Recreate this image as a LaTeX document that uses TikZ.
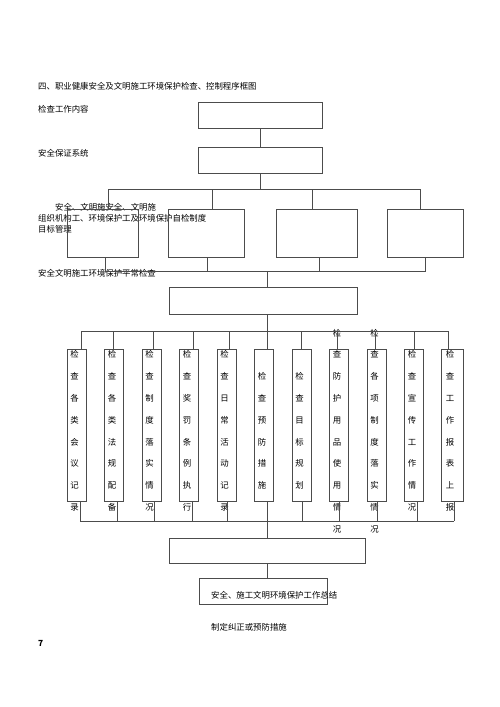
\documentclass[tikz,border=0pt]{standalone}
\usepackage{amsmath,amssymb}
\usepackage{xcolor}
\usepackage{fontspec}
\setmainfont{Noto Sans CJK SC}

\begin{document}
\begin{tikzpicture}[x=1pt,y=-1pt,        kuang/.style={rectangle,draw=black!70,line width=0.6pt,inner sep=0pt},      shukuang/.style={kuang,minimum width=19,minimum height=152},        wenzi/.style={anchor=west,inner sep=0pt,font=\fontsize{8.4}{10}\selectfont},        shuwenzi/.style={inner sep=0pt,align=center,font=\fontsize{8.4}{21.8}\selectfont},      xian/.style={draw=black!70,line width=0.6pt}  ]
    \path[fill=white] (0,0) rectangle (500,707);
    % textos
    \node[wenzi] (biaoti) at (38,86) {四、职业健康安全及文明施工环境保护检查、控制程序框图};
    \node[wenzi] (neirongtxt) at (38,109) {检查工作内容};
    \node[wenzi] (baozhengtxt) at (38,153) {安全保证系统};
    \node[wenzi] (zuzhitxt1) at (55,207) {安全、文明施安全、文明施};
    \node[wenzi] (zuzhitxt2) at (38,218) {组织机构工、环境保护工及环境保护自检制度};
    \node[wenzi] (zuzhitxt3) at (38,229) {目标管理};
    \node[wenzi] (richangtxt) at (38,273) {安全文明施工环境保护平常检查};
    % cajas
    \node[kuang,minimum width=124,minimum height=26] (neirong) at (260,115) {};
    \node[kuang,minimum width=124,minimum height=26] (baozheng) at (260,160) {};
    \node[kuang,minimum width=71,minimum height=48] (zuzhi) at (102.5,233) {};
    \node[kuang,minimum width=76,minimum height=48] (zeren) at (206,233) {};
    \node[kuang,minimum width=81,minimum height=48] (zijian) at (316.5,233) {};
    \node[kuang,minimum width=76,minimum height=48] (mubiao) at (425,233) {};
    \node[kuang,minimum width=188,minimum height=27] (richang) at (263,300.5) {};
    % columnas
    \node[shukuang] (j1) at (76.5,425) {};
    \node[shuwenzi] (t1) at (74.5,431) {检\\查\\各\\类\\会\\议\\记\\录};
    \node[shukuang] (j2) at (114,425) {};
    \node[shuwenzi] (t2) at (112,431) {检\\查\\各\\类\\法\\规\\配\\备};
    \node[shukuang] (j3) at (151.5,425) {};
    \node[shuwenzi] (t3) at (149.5,431) {检\\查\\制\\度\\落\\实\\情\\况};
    \node[shukuang] (j4) at (189,425) {};
    \node[shuwenzi] (t4) at (187,431) {检\\查\\奖\\罚\\条\\例\\执\\行};
    \node[shukuang] (j5) at (226.5,425) {};
    \node[shuwenzi] (t5) at (224.5,431) {检\\查\\日\\常\\活\\动\\记\\录};
    \node[shukuang] (j6) at (264,425) {};
    \node[shuwenzi] (t6) at (262,431) {检\\查\\预\\防\\措\\施};
    \node[shukuang] (j7) at (301.5,425) {};
    \node[shuwenzi] (t7) at (299.5,431) {检\\查\\目\\标\\规\\划};
    \node[shukuang] (j8) at (339,425) {};
    \node[shuwenzi] (t8) at (337,431) {检\\查\\防\\护\\用\\品\\使\\用\\情\\况};
    \node[shukuang] (j9) at (376.5,425) {};
    \node[shuwenzi] (t9) at (374.5,431) {检\\查\\各\\项\\制\\度\\落\\实\\情\\况};
    \node[shukuang] (j10) at (414,425) {};
    \node[shuwenzi] (t10) at (412,431) {检\\查\\宣\\传\\工\\作\\情\\况};
    \node[shukuang,minimum width=22] (j11) at (452,425) {};
    \node[shuwenzi] (t11) at (450,431) {检\\查\\工\\作\\报\\表\\上\\报};
    % abajo
    \node[kuang,minimum width=196,minimum height=25] (jiuzheng) at (267,550.5) {};
    \node[kuang,minimum width=128,minimum height=26] (zongjie) at (263,591) {};
    \node[wenzi] (zongjietxt) at (211,595) {安全、施工文明环境保护工作总结};
    \node[wenzi] (jiuzhengtxt) at (211,627) {制定纠正或预防措施};
    \node[wenzi,font=\fontsize{8.4}{10}\selectfont\bfseries] (yeshu) at (38,643) {7};
    % lineas
    \draw[xian] (neirong.south) -- (baozheng.north);
    \coordinate (fenA) at (108,189);
    \coordinate (fenB) at (212,189);
    \coordinate (fenC) at (312,189);
    \coordinate (fenD) at (420,189);
    \draw[xian] (baozheng.south) -- (baozheng.south |- fenA);
    \draw[xian] (fenA) -- (fenD);
    \draw[xian] (fenA) -- (fenA |- zuzhi.north);
    \draw[xian] (fenB) -- (fenB |- zeren.north);
    \draw[xian] (fenC) -- (fenC |- zijian.north);
    \draw[xian] (fenD) -- (fenD |- mubiao.north);
    \coordinate (heA) at (105,271);
    \coordinate (heB) at (207,271);
    \coordinate (heC) at (319,271);
    \coordinate (heD) at (425,271);
    \coordinate (heZ) at (267,271);
    \draw[xian] (heA |- zuzhi.south) -- (heA) -- (heD) -- (heD |- mubiao.south);
    \draw[xian] (heB |- zeren.south) -- (heB);
    \draw[xian] (heC |- zijian.south) -- (heC);
    \draw[xian] (heZ) -- (heZ |- richang.north);
    \coordinate (fen3) at (267,331);
    \coordinate (he4) at (267,521);
    \draw[xian] (fen3 |- richang.south) -- (fen3);
    \foreach \n/\xa/\xb in {1/81/80,2/113/117,3/153/154,4/193/192,5/229/227,6/267/267,7/301/302,8/337/339,9/375/377,10/414/417,11/448/454}{
        \coordinate (arriba\n) at (\xa,331);
        \coordinate (abajo\n) at (\xb,521);
        \draw[xian] (arriba\n) -- (arriba\n |- j\n.north);
        \draw[xian] (abajo\n |- j\n.south) -- (abajo\n);
    }
    \draw[xian] (arriba1) -- (arriba11);
    \draw[xian] (abajo1) -- (abajo11);
    \draw[xian] (he4) -- (he4 |- jiuzheng.north);
    \draw[xian] (jiuzheng.south) -- (jiuzheng.south |- zongjie.north);
\end{tikzpicture}
\end{document}
